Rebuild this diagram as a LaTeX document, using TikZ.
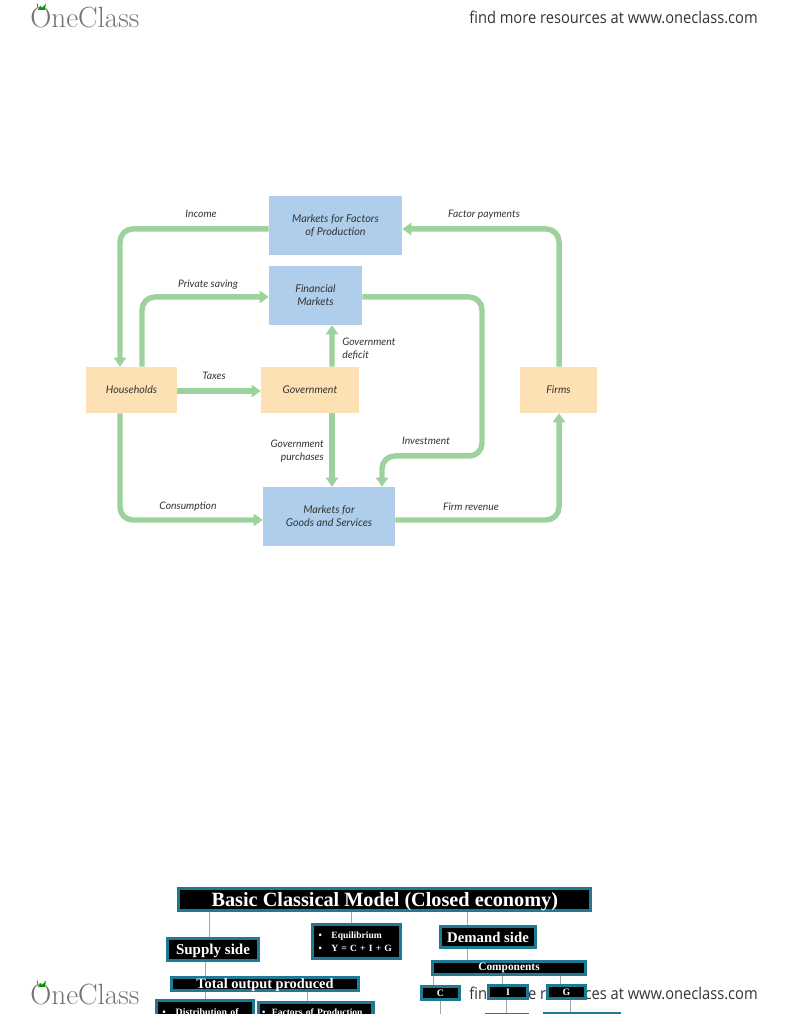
\documentclass[tikz,border=0pt]{standalone}
\usepackage{fontspec}
\setmainfont{Lato}
\newfontfamily\boxfont{Liberation Serif}
\newfontfamily\markfont[FakeStretch=0.9]{Open Sans}
\newfontfamily\logofont{Latin Modern Roman}
\usetikzlibrary{calc, positioning, arrows.meta}
\definecolor{flowgreen}{HTML}{9DD29C}
\definecolor{marketblue}{HTML}{AECEEC}
\definecolor{agentpeach}{HTML}{FDE1B5}
\definecolor{boxteal}{HTML}{1F7A94}
\definecolor{inkgray}{HTML}{333333}
\tikzset{
	market/.style={fill=marketblue, inner sep=0pt, align=center, text=inkgray, font=\fontsize{7.65}{9.2}\selectfont\itshape},
	agent/.style={fill=agentpeach, inner sep=0pt, minimum height=1.15cm, text=inkgray, font=\fontsize{7.55}{9.2}\selectfont\itshape},
	flow/.style={draw=flowgreen, line width=3.9pt, rounded corners=0.32cm, -{Triangle[width=8.6pt,length=6.4pt]}},
	lab/.style={text=inkgray, inner sep=0pt, font=\fontsize{7.35}{9.2}\selectfont\itshape},
	dark/.style={fill=black, draw=boxteal, line width=2.2pt, text=white, inner sep=0pt, font=\boxfont\bfseries},
	stem/.style={draw=gray!70, line width=0.5pt},
	pagemark/.style={text=inkgray, inner sep=0pt, font=\markfont\fontsize{11.6}{12}\selectfont},
	logo/.style={text=gray!90!black, inner sep=0pt, font=\logofont\fontsize{20.8}{22}\selectfont}
}
\begin{document}
\begin{tikzpicture}
\clip (0,0) rectangle (19.6,25.35);
	% Flow diagram
\node [market, minimum width=3.325cm, minimum height=1.475cm] (factors) at (8.3875,19.7125) {Markets for Factors\\of Production};
\node [market, minimum width=2.325cm, minimum height=1.475cm] (financial) at (7.8875,17.9625) {Financial\\Markets};
\node [market, minimum width=3.3cm, minimum height=1.475cm] (goods) at (8.225,12.4375) {Markets for\\Goods and Services};
\node [agent, minimum width=2.275cm] (households) at (3.2875,15.6) {Households};
\node [agent, minimum width=2.45cm] (government) at (7.75,15.6) {Government};
\node [agent, minimum width=1.925cm] (firms) at (13.9625,15.6) {Firms};
\coordinate (bend) at (12.05,13.95);
\draw [flow] ([yshift=-0.0875cm]factors.west) -| ([xshift=-0.2875cm]households.north);
\draw [flow] ([xshift=0.2625cm]households.north) |- ([yshift=-0.0375cm]financial.west);
\draw [flow] ([yshift=-0.025cm]households.east) -- ([yshift=-0.025cm]government.west);
\draw [flow] ([xshift=0.55cm]government.north) -- ([xshift=0.4125cm]financial.south);
\draw [flow] ([xshift=0.55cm]government.south) -- ([xshift=0.075cm]goods.north);
\draw [flow] ([xshift=-0.2875cm]households.south) |- ([yshift=-0.0875cm]goods.west);
\draw [flow] ([yshift=-0.0875cm]goods.east) -| ([xshift=0.0125cm]firms.south);
\draw [flow] ([xshift=0.0125cm]firms.north) |- ([yshift=-0.0875cm]factors.east);
\draw [flow] ([yshift=-0.0375cm]financial.east) -| (bend) -| ([xshift=1.325cm]goods.north);
\node [lab] (income) at (5.025,20.0) {Income};
\node [lab] (factorpay) at (12.1,19.98) {Factor payments};
\node [lab] (saving) at (5.2,18.24) {Private saving};
\node [lab] (taxes) at (5.35,15.95) {Taxes};
\node [lab, anchor=west, align=left] (deficit) at (8.55,16.625) {Government\\deficit};
\node [lab, anchor=east, align=right] (purchases) at (8.1,14.075) {Government\\purchases};
\node [lab] (investment) at (10.65,14.33) {Investment};
\node [lab] (consumption) at (4.7,12.68) {Consumption};
\node [lab] (revenue) at (11.775,12.68) {Firm revenue};
	% Page mark under the chart
\node [pagemark, anchor=east] (markbottom) at (18.95,0.525) {find more resources at www.oneclass.com};
	% Model chart
\node [dark, minimum width=10.3cm, minimum height=0.57cm, text depth=0pt, font=\boxfont\bfseries\fontsize{14.4}{15}\selectfont] (model) at (9.62,2.8625) {Basic Classical Model (Closed economy)};
\node [dark, minimum width=2.28cm, minimum height=0.56cm, text depth=0pt, font=\boxfont\bfseries\fontsize{10.7}{11}\selectfont] (supply) at (5.325,1.6125) {Supply side};
\node [dark, text width=1.9cm, inner xsep=0.15cm, minimum height=0.86cm, align=left, font=\boxfont\bfseries\fontsize{6.8}{9}\selectfont] (equilibrium) at (8.9125,1.8125) {•\ \ \ Equilibrium\\•\ \ \ Y = C + I + G};
\node [dark, minimum width=2.38cm, minimum height=0.53cm, font=\boxfont\bfseries\fontsize{10.5}{11}\selectfont] (demand) at (12.2,1.925) {Demand side};
\node [dark, minimum width=3.83cm, minimum height=0.33cm, font=\boxfont\bfseries\fontsize{8.1}{9}\selectfont] (components) at (12.725,1.15) {Components};
\node [dark, minimum width=4.68cm, minimum height=0.33cm, text depth=0pt, font=\boxfont\bfseries\fontsize{10.2}{11}\selectfont] (output) at (6.625,0.75) {Total output produced};
\node [dark, anchor=north, text width=2.13cm, inner xsep=0.15cm, inner ysep=5.5pt, align=left, font=\boxfont\bfseries\fontsize{7}{9}\selectfont] (distribution) at (5.125,0.375) {•\ \ \ Distribution of};
\node [dark, anchor=north, text width=2.67cm, inner xsep=0.1cm, inner ysep=4.5pt, align=left, font=\boxfont\bfseries\fontsize{6.8}{9}\selectfont] (production) at (7.89,0.325) {\mbox{•\ \ Factors of Production}};
\node [dark, minimum width=0.95cm, minimum height=0.33cm, font=\boxfont\bfseries\fontsize{7}{9}\selectfont] (cbox) at (11.0125,0.525) {C};
\node [dark, minimum width=0.98cm, minimum height=0.33cm, font=\boxfont\bfseries\fontsize{7}{9}\selectfont] (ibox) at (12.7,0.55) {I};
\node [dark, minimum width=0.95cm, minimum height=0.33cm, font=\boxfont\bfseries\fontsize{7}{9}\selectfont] (gbox) at (14.1625,0.55) {G};
\node [dark, anchor=north, minimum width=1.03cm, minimum height=0.5cm] (ilow) at (12.675,0.03) {};
\node [dark, anchor=north, minimum width=1.88cm, minimum height=0.5cm] (glow) at (14.55,0.05) {};
\draw [stem] ([xshift=-0.1cm]supply.north) -- ([xshift=-0.1cm]supply.north |- model.south);
\draw [stem] ([xshift=-0.14cm]equilibrium.north) -- ([xshift=-0.14cm]equilibrium.north |- model.south);
\draw [stem] ([xshift=-0.525cm]demand.north) -- ([xshift=-0.525cm]demand.north |- model.south);
\draw [stem] ([xshift=-0.525cm]demand.south) -- ([xshift=-0.525cm]demand.south |- components.north);
\draw [stem] ([xshift=-0.2cm]supply.south) -- ([xshift=-0.2cm]supply.south |- output.north);
\draw [stem] ([xshift=-1.5cm]output.south) -- ([xshift=-1.5cm]output.south |- distribution.north);
\draw [stem] ([xshift=-0.2cm]production.north) -- ([xshift=-0.2cm]production.north |- output.south);
\draw [stem] ([xshift=-1.9cm]components.south) -- ([xshift=-1.9cm]components.south |- cbox.north);
\draw [stem] ([xshift=-0.15cm]ibox.north) -- ([xshift=-0.15cm]ibox.north |- components.south);
\draw [stem] ([xshift=-0.16cm]gbox.north) -- ([xshift=-0.16cm]gbox.north |- components.south);
\draw [stem] (cbox.south) -- ++(0,-0.5);
\draw [stem] ([xshift=-0.05cm]ibox.south) -- ([xshift=-0.05cm]ibox.south |- ilow.north);
\draw [stem] ([xshift=0.09cm]gbox.south) -- ([xshift=0.09cm]gbox.south |- glow.north);
	% Page marks
\node [pagemark, anchor=east] (marktop) at (18.95,24.925) {find more resources at www.oneclass.com};
\node [logo, anchor=west] (logotop) at (0.75,24.9) {OneClass};
\node [logo, anchor=west] (logobottom) at (0.75,0.49) {OneClass};
\foreach \y in {25.1,0.675} {
	\draw [inkgray, line width=0.4pt] (0.93,\y+0.16) -- (0.96,\y);
	\fill [green!60!black] (0.96,\y) -- (1.0,\y+0.1) -- (1.05,\y+0.05) -- (1.15,\y+0.16) -- (1.12,\y) -- cycle;
}
\end{tikzpicture}
\end{document}
